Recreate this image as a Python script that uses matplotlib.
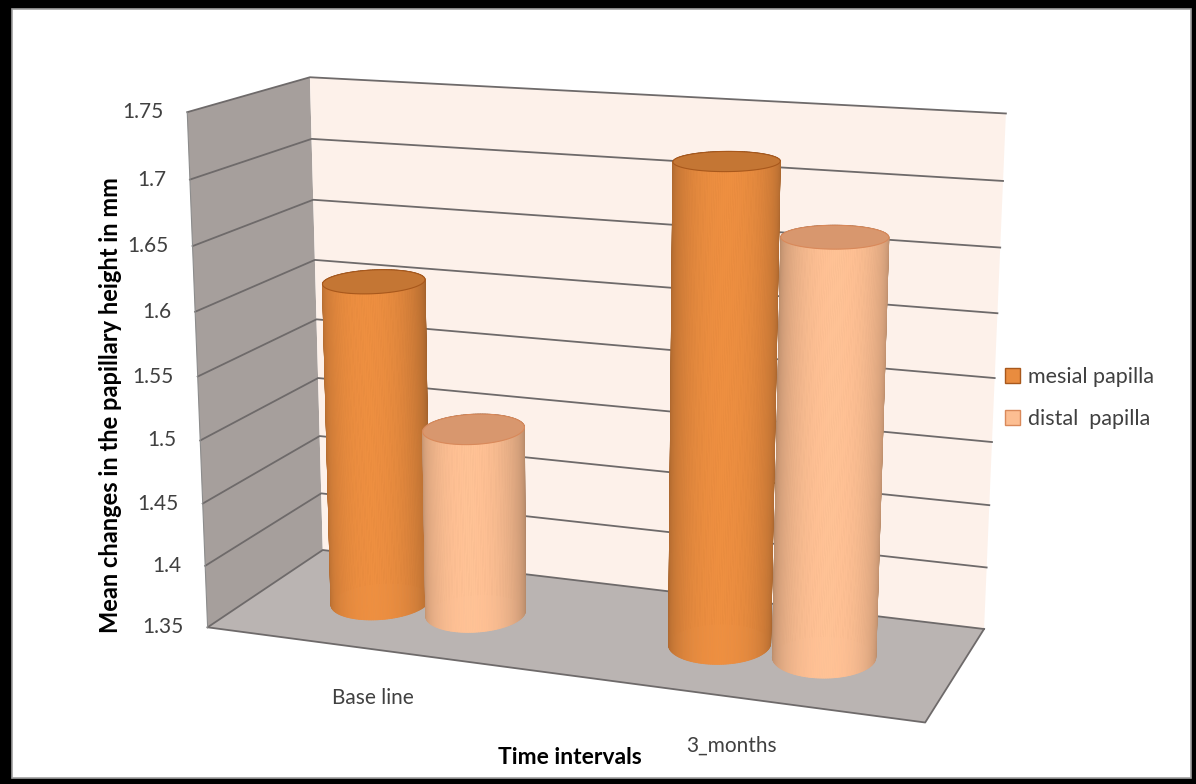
import numpy as np
import matplotlib.pyplot as plt
from matplotlib.patches import Polygon, Rectangle, Patch
from matplotlib.collections import PolyCollection

plt.rcParams['font.family'] = ['Lato', 'DejaVu Sans']

# data
categories = ["Base line", "3_months"]
series_names = ["mesial papilla", "distal  papilla"]
mesial = [1.61, 1.72]
distal = [1.50, 1.67]
y_ticks = [1.35, 1.40, 1.45, 1.50, 1.55, 1.60, 1.65, 1.70, 1.75]
y_labels = ["1.35", "1.4", "1.45", "1.5", "1.55", "1.6", "1.65", "1.7", "1.75"]
ymin, ymax = 1.35, 1.75

# colours (body, cap, edge)
body_cols = [np.array([233, 140, 63]) / 255, np.array([252, 190, 146]) / 255]
cap_cols = ['#c47634', '#d8976e']
edge_cols = ['#a8581c', '#d9895a']

# camera calibration of the 3d box: (x, depth, height) -> pixel
world = [(0, 0, 0), (0, 0, 1), (0, 1, 0), (0, 1, 1), (1, 1, 0), (1, 1, 1), (1, 0, 0),
         (0, 1, 0.875), (1, 1, 0.875), (1, 1, 0.75), (1, 1, 0.125), (0, 1, 0.125), (0, 1, 0.25)]
pix = [(208, 627), (187, 112), (323, 550), (310, 77), (984, 629), (1006, 114), (925, 723),
       (312, 139), (1003, 181), (1000, 247), (987, 567), (321, 493), (319, 437)]


def fit_camera(world, pix):
    A = []
    for (X, Y, Z), (u, v) in zip(world, pix):
        u, v = u / 1000, v / 1000
        A.append([X, Y, Z, 1, 0, 0, 0, 0, -u * X, -u * Y, -u * Z, -u])
        A.append([0, 0, 0, 0, X, Y, Z, 1, -v * X, -v * Y, -v * Z, -v])
    _, _, Vt = np.linalg.svd(np.array(A, dtype=float))
    P = Vt[-1].reshape(3, 4)
    if (P @ [0.5, 0.5, 0.5, 1])[2] < 0:
        P = -P
    return P


P = fit_camera(world, pix)


def proj(X, Z, H):
    X, Z, H = np.broadcast_arrays(np.asarray(X, float), np.asarray(Z, float), np.asarray(H, float))
    p = np.stack([X, Z, H, np.ones_like(X)], axis=-1) @ P.T
    return p[..., 0] / p[..., 2] * 1000, p[..., 1] / p[..., 2] * 1000, p[..., 2]


def hn(v):
    return (np.asarray(v) - ymin) / (ymax - ymin)


fig = plt.figure(figsize=(11.96, 7.84), dpi=100)
fig.patch.set_facecolor('black')
ax = fig.add_axes([0, 0, 1, 1])
ax.set_xlim(0, 1196)
ax.set_ylim(784, 0)
ax.axis('off')
ax.add_patch(Rectangle((12, 9), 1179, 769, facecolor='white', edgecolor='#a0a0a0', lw=1.2, zorder=0))


def face(corners, **kw):
    c = np.array(corners, float)
    xs, ys, _ = proj(c[:, 0], c[:, 1], c[:, 2])
    ax.add_patch(Polygon(np.c_[xs, ys], closed=True, **kw))


face([(0, 0, 0), (0, 1, 0), (0, 1, 1), (0, 0, 1)], fc='#a69f9c', ec='none', zorder=1)
face([(0, 1, 0), (1, 1, 0), (1, 1, 1), (0, 1, 1)], fc='#fdf1ea', ec='none', zorder=1)
face([(0, 0, 0), (1, 0, 0), (1, 1, 0), (0, 1, 0)], fc='#bab4b2', ec='none', zorder=1)

# gridlines on left and back wall
for v in y_ticks:
    h = hn(v)
    xs, ys, _ = proj([0, 0, 1], [0, 1, 1], [h, h, h])
    ax.plot(xs, ys, color='#6e6a6a', lw=1.3, zorder=2)
xs, ys, _ = proj([0, 1, 1], [0, 0, 1], [0, 0, 0])
ax.plot(xs, ys, color='#6e6a6a', lw=1.3, zorder=2)
xs, ys, _ = proj([0, 0], [0, 0], [0, 1])
ax.plot(xs, ys, color='#8c8c8c', lw=0.8, zorder=2)

# tick labels
for v, lab in zip(y_ticks, y_labels):
    x0, y0, _ = proj(0, 0, hn(v))
    ax.annotate(lab, (x0, y0), xytext=(-24, 0), textcoords='offset pixels',
                ha='right', va='center', fontsize=15, color='#404040')

# cylinders
bw = 0.145
rx, rz, cz = 0.0675, 0.22, 0.5
theta = np.linspace(0, 2 * np.pi, 181)
tm = (theta[:-1] + theta[1:]) / 2
light = np.deg2rad(290)
cyls = []
for i, cat in enumerate(categories):
    cc = (i + 0.5) / len(categories)
    for s, vals in enumerate([mesial, distal]):
        cx = cc + (s - 0.5) * bw
        cyls.append((cx, vals[i], s))
cyls.sort(key=lambda c: -proj(c[0], cz, 0.5)[2])

for k, (cx, val, s) in enumerate(cyls):
    X = cx + rx * np.cos(theta)
    Z = cz + rz * np.sin(theta)
    xb, yb, db = proj(X, Z, 0)
    xt, yt, _ = proj(X, Z, hn(val))
    quads = [[(xb[j], yb[j]), (xb[j + 1], yb[j + 1]), (xt[j + 1], yt[j + 1]), (xt[j], yt[j])]
             for j in range(len(tm))]
    depth = (db[:-1] + db[1:]) / 2
    order = np.argsort(-depth)
    f = 0.72 + 0.30 * np.cos(tm - light)
    cols = np.clip(body_cols[s][None, :] * f[:, None], 0, 1)
    pc = PolyCollection([quads[j] for j in order], facecolors=cols[order],
                        edgecolors=cols[order], lw=0.6, zorder=3 + 2 * k)
    ax.add_collection(pc)
    ax.add_patch(Polygon(np.c_[xt, yt], closed=True, fc=cap_cols[s], ec=edge_cols[s],
                         lw=0.8, zorder=4 + 2 * k))

# category labels
for i, cat in enumerate(categories):
    x0, y0, _ = proj((i + 0.5) / len(categories), 0, 0)
    ax.annotate(cat, (x0, y0), xytext=(-1, -49), textcoords='offset pixels',
                ha='center', va='center', fontsize=15, color='#404040')

ax.text(111, 405, "Mean changes in the papillary height in mm", rotation=90,
        ha='center', va='center', fontsize=17, fontweight='bold', color='black')
ax.text(570, 757, "Time intervals", ha='center', va='center', fontsize=16.5,
        fontweight='bold', color='black')

handles = [Patch(fc=body_cols[0], ec=edge_cols[0]), Patch(fc=body_cols[1], ec=edge_cols[1])]
ax.legend(handles, series_names, loc='center left', bbox_to_anchor=(1005 / 1196, 1 - 398 / 784),
          frameon=False, fontsize=15.5, handlelength=0.7, handleheight=0.7,
          handletextpad=0.35, labelspacing=1.0, borderpad=0, borderaxespad=0,
          labelcolor='#404040')

fig.savefig('out.png', dpi=100, facecolor='black')
